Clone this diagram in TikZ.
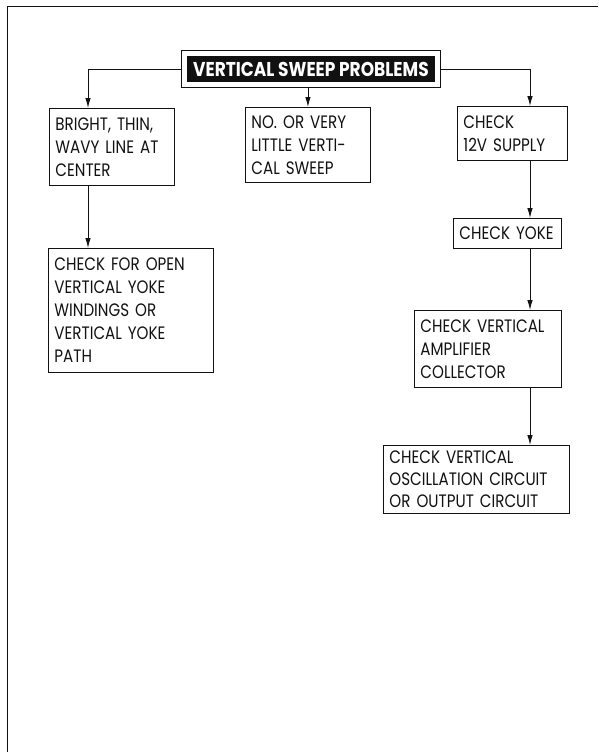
\documentclass[tikz,border=0pt]{standalone}
\usepackage{fontspec}
\setmainfont{Poppins}[FakeStretch=0.84]
\newfontfamily\titlefont{Poppins}[FakeStretch=0.85]
\usepackage{tikz}
\usetikzlibrary{arrows.meta,positioning}
\definecolor{Ink}{HTML}{111111}
\tikzset{
  stepbox/.style={draw=Ink,line width=0.9pt,anchor=north west,align=left,
    inner xsep=6pt,inner ysep=0pt,font=\fontsize{18pt}{23pt}\selectfont,text=Ink},
  titlebox/.style={draw=Ink,fill=Ink,double=white,double distance=5pt,line width=1pt,
    minimum width=253pt,minimum height=31pt,inner sep=0pt,outer sep=3pt,
    font=\titlefont\bfseries\fontsize{20pt}{22pt}\selectfont,text=white},
  arrow/.style={-{Latex[length=10pt,width=5.5pt]},line width=0.9pt,color=Ink}
}
\begin{document}
\begin{tikzpicture}[x=1pt,y=-1pt]
  \useasboundingbox (0,0) rectangle (598,752);
  \draw[Ink,line width=0.9pt] (7,752) -- (7,6) -- (598,6);
  \node[titlebox] (title) at (311,69) {VERTICAL SWEEP PROBLEMS};
  \node[stepbox,minimum width=125pt,minimum height=77pt,text width=113pt] (bright) at (49,108)
    {BRIGHT, THIN,\\WAVY LINE AT\\CENTER};
  \node[stepbox,minimum width=125pt,minimum height=75pt,text width=113pt] (novert) at (245,107)
    {NO. OR VERY\\LITTLE VERTI-\\CAL SWEEP};
  \node[stepbox,minimum width=110pt,minimum height=54pt,text width=98pt] (supply) at (457,106)
    {CHECK\\12V SUPPLY};
  \node[stepbox,minimum width=165pt,minimum height=124pt,text width=153pt] (openyoke) at (48,248)
    {CHECK FOR OPEN\\VERTICAL YOKE\\WINDINGS OR\\VERTICAL YOKE\\PATH};
  \node[stepbox,minimum width=108pt,minimum height=30pt,text width=96pt] (yoke) at (453,218)
    {CHECK YOKE};
  \node[stepbox,minimum width=147pt,minimum height=77pt,text width=135pt] (amp) at (414,310)
    {CHECK VERTICAL\\AMPLIFIER\\COLLECTOR};
  \node[stepbox,minimum width=186pt,minimum height=68pt,text width=174pt,
    font=\fontsize{18pt}{22pt}\selectfont] (osc) at (383,445)
    {CHECK VERTICAL\\OSCILLATION CIRCUIT\\OR OUTPUT CIRCUIT};
  \coordinate (lline) at (88,0);
  \coordinate (rline) at (530,0);
  % title to the three first boxes
  \draw[arrow] (title.west) -| (bright.north -| lline);
  \draw[arrow] (title.south -| novert.north) -- (novert.north);
  \draw[arrow] (title.east) -| (supply.north -| rline);
  % left branch
  \draw[arrow] (bright.south -| lline) -- (openyoke.north -| lline);
  % right branch
  \draw[arrow] (supply.south -| rline) -- (yoke.north -| rline);
  \draw[arrow] (yoke.south -| rline) -- (amp.north -| rline);
  \draw[arrow] (amp.south -| rline) -- (osc.north -| rline);
\end{tikzpicture}
\end{document}
